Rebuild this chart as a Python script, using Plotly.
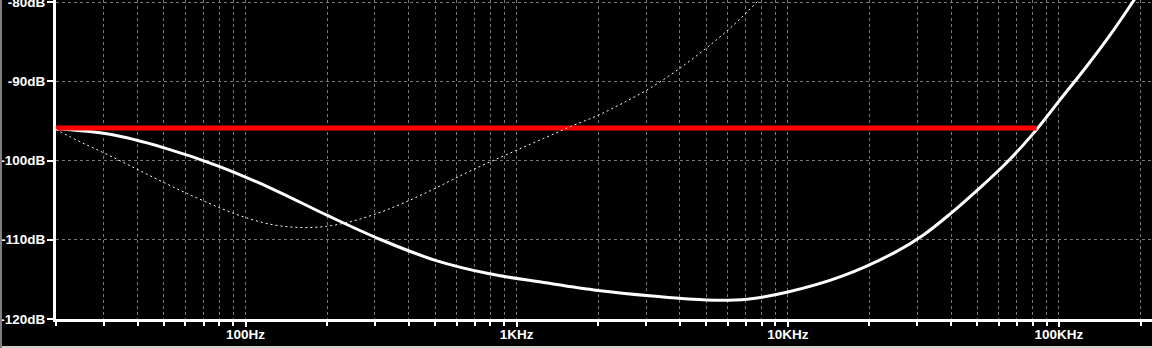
import plotly.graph_objects as go
import numpy as np

# ---- data ----
freq_solid = [20, 31.6, 50.1, 79.4, 125.9, 199.5, 316.2, 501.2, 794.3, 1259, 1995, 3162,
              5012, 7079, 10000, 15850, 25120, 31620, 39810, 50120, 63100, 79430, 100000,
              125900, 158500, 199500, 223900]
db_solid = [-96.0, -96.7, -98.4, -100.7, -103.6, -106.9, -110.0, -112.6, -114.3, -115.4,
            -116.4, -117.1, -117.6, -117.5, -116.6, -114.6, -111.5, -109.4, -106.7, -103.7,
            -100.5, -96.8, -92.5, -88.2, -83.6, -78.6, -76.2]

freq_dotted = [20, 25.1, 31.6, 39.8, 50.1, 63.1, 79.4, 100, 125.9, 158.5, 199.5, 251.2, 316.2,
               398.1, 501.2, 631, 794.3, 1000, 1259, 1585, 1995, 2512, 3162, 3981, 5012, 6310,
               7943, 10000]
db_dotted = [-96.1, -97.8, -99.4, -101.1, -102.8, -104.4, -105.9, -107.2, -108.1, -108.45,
             -108.3, -107.6, -106.5, -105.1, -103.5, -101.8, -100.2, -98.7, -97.2, -95.7,
             -94.3, -92.6, -90.7, -88.4, -85.8, -82.9, -79.5, -75.8]

freq_red = [20, 82700]
db_red = [-95.9, -95.9]

y_ticks = [-120, -110, -100, -90, -80]
y_labels = ["-120dB", "-110dB", "-100dB", "-90dB", "-80dB"]
x_major = [100, 1000, 10000, 100000]
x_major_labels = ["100Hz", "1KHz", "10KHz", "100KHz"]
x_minor = [m * 10 ** d for d in range(1, 6) for m in range(1, 10) if 20 <= m * 10 ** d <= 200000]
x_minor_text = [x_major_labels[x_major.index(v)] if v in x_major else "" for v in x_minor]

FONT = dict(family="Liberation Sans, Arial, sans-serif", size=13.5, color="white", weight="bold")
GRID = "#7a7a7a"

fig = go.Figure()
fig.add_trace(go.Scatter(x=freq_solid, y=db_solid, mode="lines",
                         line=dict(color="white", width=3, shape="spline"),
                         hoverinfo="skip", showlegend=False))
fig.add_trace(go.Scatter(x=freq_red, y=db_red, mode="lines", xaxis="x2", yaxis="y2",
                         line=dict(color="#ff0000", width=5),
                         hoverinfo="skip", showlegend=False))
fig.add_trace(go.Scatter(x=freq_dotted, y=db_dotted, mode="lines", xaxis="x2", yaxis="y2",
                         line=dict(color="white", width=1, dash="2px,3px", shape="spline"),
                         hoverinfo="skip", showlegend=False))

xr = [np.log10(20), 5.343]
yr = [-120, -120 + 319 / 7.925]
fig.update_layout(
    width=1152, height=348,
    margin=dict(l=56, r=0, t=0, b=29),
    paper_bgcolor="black", plot_bgcolor="black",
    font=FONT,
    xaxis=dict(type="log", range=xr, tickmode="array", tickvals=x_minor,
               ticktext=x_minor_text, ticks="outside", ticklen=4, tickwidth=2,
               tickcolor="white", tickfont=FONT, showgrid=True, gridcolor=GRID, gridwidth=1,
               griddash="3px,3px", showline=True, linecolor="white", linewidth=3,
               zeroline=False, automargin=False, fixedrange=True, ticklabeloverflow="allow",
               ticklabelstandoff=-3),
    xaxis2=dict(type="log", range=xr, overlaying="x", side="bottom", anchor="y2",
                tickmode="array", tickvals=x_major, showticklabels=False,
                ticks="outside", ticklen=7, tickwidth=2, tickcolor="white",
                showgrid=False, showline=False, zeroline=False,
                automargin=False, fixedrange=True),
    yaxis=dict(range=yr, tickmode="array", tickvals=y_ticks,
               ticktext=y_labels, ticks="outside", ticklen=5, tickwidth=2,
               tickcolor="rgba(0,0,0,0)", tickfont=FONT, showgrid=True, gridcolor=GRID,
               gridwidth=1, griddash="3px,3px", showline=True, linecolor="white",
               linewidth=3, zeroline=False, automargin=False, fixedrange=True,
               ticklabeloverflow="allow"),
    yaxis2=dict(range=yr, overlaying="y", side="left", anchor="x2", tickmode="array",
                tickvals=y_ticks, showticklabels=False, ticks="outside", ticklen=8,
                tickwidth=2, tickcolor="white", showgrid=False, showline=False,
                zeroline=False, automargin=False, fixedrange=True),
    shapes=[
        dict(type="rect", xref="paper", yref="paper", x0=-56 / 1096, x1=1.0,
             y0=-27 / 319, y1=-29 / 319, fillcolor="#d4d0c8", line=dict(width=0), layer="above"),
        dict(type="rect", xref="paper", yref="paper", x0=-56 / 1096, x1=-54 / 1096,
             y0=-29 / 319, y1=1.0, fillcolor="#808080", line=dict(width=0), layer="above"),
    ],
)

fig.write_html("out.html")
